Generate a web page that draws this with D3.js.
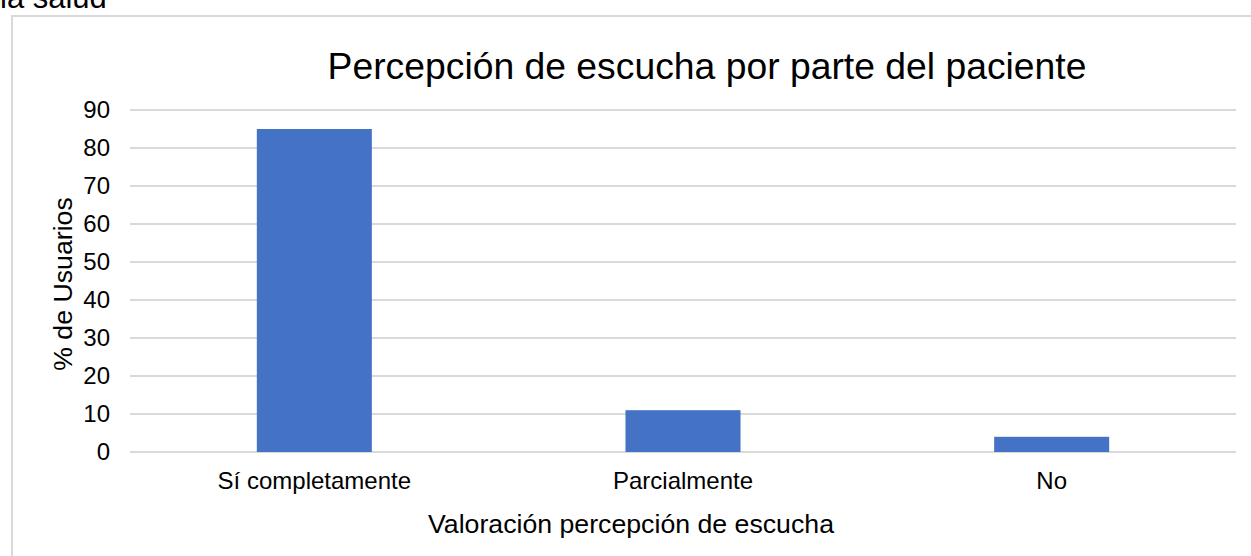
<!DOCTYPE html>
<html lang="es">
<head>
<meta charset="UTF-8">
<title>Percepción de escucha por parte del paciente</title>
<script src="https://d3js.org/d3.v7.min.js"></script>
<style>
    body { margin: 0; background: #fff; }
    text { font-family: Arial, "Liberation Sans", sans-serif; fill: #000; }
    .grid line { stroke: #d9d9d9; stroke-width: 2px; }
</style>
</head>
<body>
<div id="chart"></div>
<script>
    const categories = ["Sí completamente", "Parcialmente", "No"];
    const values = [85, 11, 4];
    const yTicks = [0, 10, 20, 30, 40, 50, 60, 70, 80, 90];

    const W = 1251, H = 556;
    const margin = { top: 110, right: 15, bottom: 104, left: 130 };
    const innerW = W - margin.left - margin.right,
        innerH = 452 - margin.top;

    const svg = d3.select("#chart").append("svg")
        .attr("width", W)
        .attr("height", H);

    // text cut off from the page above the chart
    svg.append("text")
        .attr("x", 0).attr("y", 8)
        .style("font-size", "31px")
        .text("la salud");

    // chart frame (only top and left edge visible)
    svg.append("path")
        .attr("d", `M12,${H + 5}V16H${W + 5}`)
        .attr("fill", "none")
        .attr("stroke", "#d9d9d9")
        .attr("stroke-width", 2);

    const g = svg.append("g")
        .attr("transform", `translate(${margin.left},${margin.top})`);

    const x = d3.scaleBand()
        .domain(categories)
        .range([0, innerW])
        .paddingInner(0.688)
        .paddingOuter(0.344);

    const y = d3.scaleLinear()
        .domain([0, 90])
        .range([innerH, 0]);

    g.append("g")
        .attr("class", "grid")
        .selectAll("line")
        .data(yTicks)
        .join("line")
        .attr("x1", 0).attr("x2", innerW)
        .attr("y1", d => y(d)).attr("y2", d => y(d));

    g.selectAll(".ytick")
        .data(yTicks)
        .join("text")
        .attr("class", "ytick")
        .attr("x", -20)
        .attr("y", d => y(d))
        .attr("dy", "0.35em")
        .attr("text-anchor", "end")
        .style("font-size", "24px")
        .text(d => d);

    g.selectAll(".bar")
        .data(values)
        .join("rect")
        .attr("class", "bar")
        .attr("x", (d, i) => x(categories[i]))
        .attr("width", x.bandwidth())
        .attr("y", d => y(d))
        .attr("height", d => innerH - y(d))
        .attr("fill", "#4472c4");

    g.selectAll(".xtick")
        .data(categories)
        .join("text")
        .attr("class", "xtick")
        .attr("x", d => x(d) + x.bandwidth() / 2)
        .attr("y", innerH + 37)
        .attr("text-anchor", "middle")
        .style("font-size", "24px")
        .text(d => d);

    svg.append("text")
        .attr("x", 707).attr("y", 79)
        .attr("text-anchor", "middle")
        .style("font-size", "37.3px")
        .text("Percepción de escucha por parte del paciente");

    svg.append("text")
        .attr("x", 631).attr("y", 533)
        .attr("text-anchor", "middle")
        .style("font-size", "26.7px")
        .text("Valoración percepción de escucha");

    svg.append("text")
        .attr("transform", "translate(72,284) rotate(-90)")
        .attr("text-anchor", "middle")
        .style("font-size", "26.7px")
        .text("% de Usuarios");
</script>
</body>
</html>
